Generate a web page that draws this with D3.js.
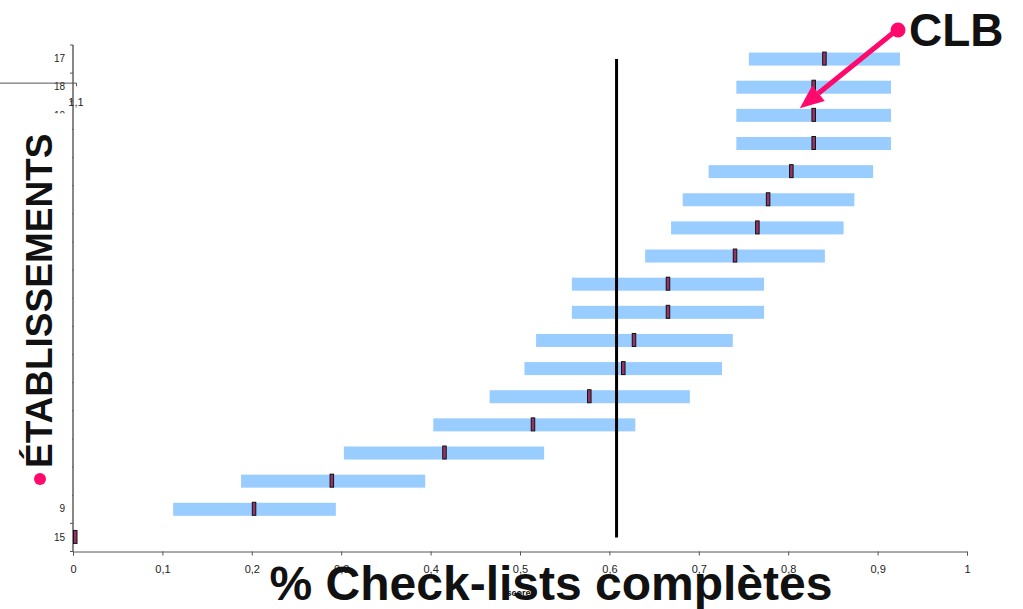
<!DOCTYPE html>
<html>
<head>
<meta charset="utf-8">
<script src="https://cdn.jsdelivr.net/npm/d3@7"></script>
<style>
  body { margin: 0; background: #fff; }
  svg { display: block; font-family: Arial, "Liberation Sans", sans-serif; }
</style>
</head>
<body>
<div id="chart"></div>
<script>
// établissements, top to bottom (most labels hidden behind the title box)
const categories = ['17', '18', '10', '', '', '', '', '', '', '', '', '', '', '', '', '', '9', '15'];
// interval low / high and score per établissement
const lowValues = [0.756, 0.742, 0.742, 0.742, 0.711, 0.682, 0.669, 0.640, 0.558, 0.558, 0.518, 0.505, 0.466, 0.403, 0.303, 0.188, 0.112, 0];
const highValues = [0.925, 0.915, 0.915, 0.915, 0.895, 0.874, 0.862, 0.841, 0.773, 0.773, 0.738, 0.726, 0.690, 0.629, 0.527, 0.394, 0.294, 0];
const scoreValues = [0.838, 0.826, 0.826, 0.826, 0.801, 0.775, 0.763, 0.738, 0.663, 0.663, 0.625, 0.613, 0.575, 0.512, 0.413, 0.287, 0.200, 0];
const meanScore = 0.608;
const xTicks = [0, 0.1, 0.2, 0.3, 0.4, 0.5, 0.6, 0.7, 0.8, 0.9, 1];
const highlightRow = 2; // CLB

const width = 1023;
const height = 609;
const plot = { left: 73, right: 967, top: 45, bottom: 551.5 };
const pink = '#ff0a6c';

const svg = d3.select('#chart')
  .append('svg')
  .attr('width', width)
  .attr('height', height);

const rows = d3.range(categories.length);

const x = d3.scaleLinear()
  .domain([0, 1])
  .range([plot.left, plot.right]);

const y = d3.scaleBand()
  .domain(rows)
  .range([plot.top, plot.bottom]);

// x axis
const xAxis = svg.append('g')
  .attr('transform', `translate(0, ${plot.bottom})`)
  .call(d3.axisBottom(x)
    .tickValues(xTicks)
    .tickSize(4)
    .tickSizeOuter(4)
    .tickPadding(10)
    .tickFormat(d => d3.format('~g')(d).replace('.', ',')));
xAxis.select('.domain').attr('stroke', '#555');
xAxis.selectAll('.tick line').attr('stroke', '#555');
xAxis.selectAll('text').attr('font-size', 11).attr('fill', '#222');

// y axis: labels at band centres, ticks at band boundaries
const yAxis = svg.append('g')
  .attr('transform', `translate(${plot.left}, 0)`)
  .call(d3.axisLeft(y)
    .tickSize(0)
    .tickPadding(8)
    .tickFormat(i => categories[i]));
yAxis.select('.domain').remove();
yAxis.selectAll('text').attr('font-size', 10).attr('fill', '#222');

svg.append('line')
  .attr('x1', plot.left).attr('x2', plot.left)
  .attr('y1', plot.top).attr('y2', plot.bottom)
  .attr('stroke', '#111');

svg.selectAll('.y-tick')
  .data(d3.range(categories.length + 1))
  .enter()
  .append('line')
  .attr('class', 'y-tick')
  .attr('x1', plot.left - 3)
  .attr('x2', plot.left)
  .attr('y1', i => i < categories.length ? y(i) : plot.bottom)
  .attr('y2', i => i < categories.length ? y(i) : plot.bottom)
  .attr('stroke', '#555');

// interval bars
const barH = 13;
svg.selectAll('.range-bar')
  .data(rows.filter(i => highValues[i] > lowValues[i]))
  .enter()
  .append('rect')
  .attr('class', 'range-bar')
  .attr('x', i => x(lowValues[i]))
  .attr('y', i => y(i) + y.bandwidth() / 2 - barH / 2)
  .attr('width', i => x(highValues[i]) - x(lowValues[i]))
  .attr('height', barH)
  .attr('fill', '#99ccff');

// mean line
svg.append('line')
  .attr('x1', x(meanScore)).attr('x2', x(meanScore))
  .attr('y1', y(0) + y.bandwidth() / 2)
  .attr('y2', y(rows.length - 1) + y.bandwidth() / 2)
  .attr('stroke', '#000')
  .attr('stroke-width', 3);

// score markers
svg.selectAll('.score')
  .data(rows)
  .enter()
  .append('rect')
  .attr('class', 'score')
  .attr('x', i => x(scoreValues[i]) + 0.5)
  .attr('y', i => y(i) + y.bandwidth() / 2 - 7)
  .attr('width', 3.5)
  .attr('height', 13)
  .attr('fill', '#993366')
  .attr('stroke', '#111')
  .attr('stroke-width', 1);

// white box over the hidden y labels
const boxTop = y(2) + y.bandwidth() / 2 - 2;
svg.append('rect')
  .attr('x', 0).attr('y', boxTop)
  .attr('width', plot.left - 1)
  .attr('height', y(15) + y.bandwidth() + 2 - boxTop)
  .attr('fill', '#fff');

// stray mini axis + "1,1" label at the top left
const strayY = y(1) + 10;
svg.append('path')
  .attr('d', `M0,${strayY}H${plot.left + 3.5}v3`)
  .attr('fill', 'none')
  .attr('stroke', '#555');
svg.append('text')
  .attr('x', plot.left + 3)
  .attr('y', strayY + 23)
  .attr('text-anchor', 'middle')
  .attr('font-size', 11)
  .attr('fill', '#222')
  .text('1,1');

// y title
svg.append('text')
  .attr('transform', `translate(52, 468) rotate(-90)`)
  .attr('font-size', 37)
  .attr('font-weight', 'bold')
  .attr('fill', '#111')
  .text('ÉTABLISSEMENTS');
svg.append('circle')
  .attr('cx', 40).attr('cy', 479).attr('r', 6)
  .attr('fill', pink);

// x titles
svg.append('text')
  .attr('x', 521)
  .attr('y', 596)
  .attr('text-anchor', 'middle')
  .attr('font-size', 9)
  .attr('font-weight', 'bold')
  .attr('fill', '#111')
  .text('scores');
svg.append('text')
  .attr('x', 551)
  .attr('y', 600)
  .attr('text-anchor', 'middle')
  .attr('font-size', 48)
  .attr('font-weight', 'bold')
  .attr('fill', '#111')
  .text('% Check-lists complètes');

// CLB annotation
const tipX = x(0.813);
const tipY = y(highlightRow) + y.bandwidth() / 2 - 7;
const startX = 893, startY = 33;
const ang = Math.atan2(tipY - startY, tipX - startX);
const headLen = 24, headW = 10;
const baseX = tipX - headLen * Math.cos(ang);
const baseY = tipY - headLen * Math.sin(ang);
svg.append('line')
  .attr('x1', startX).attr('y1', startY)
  .attr('x2', baseX).attr('y2', baseY)
  .attr('stroke', pink)
  .attr('stroke-width', 5);
svg.append('path')
  .attr('d', `M${tipX},${tipY}L${baseX + headW * Math.sin(ang)},${baseY - headW * Math.cos(ang)}L${baseX - headW * Math.sin(ang)},${baseY + headW * Math.cos(ang)}Z`)
  .attr('fill', pink);
svg.append('circle')
  .attr('cx', 898).attr('cy', 30).attr('r', 7.5)
  .attr('fill', pink);
svg.append('text')
  .attr('x', 909)
  .attr('y', 46)
  .attr('font-size', 46)
  .attr('font-weight', 'bold')
  .attr('fill', '#111')
  .text('CLB');
</script>
</body>
</html>
